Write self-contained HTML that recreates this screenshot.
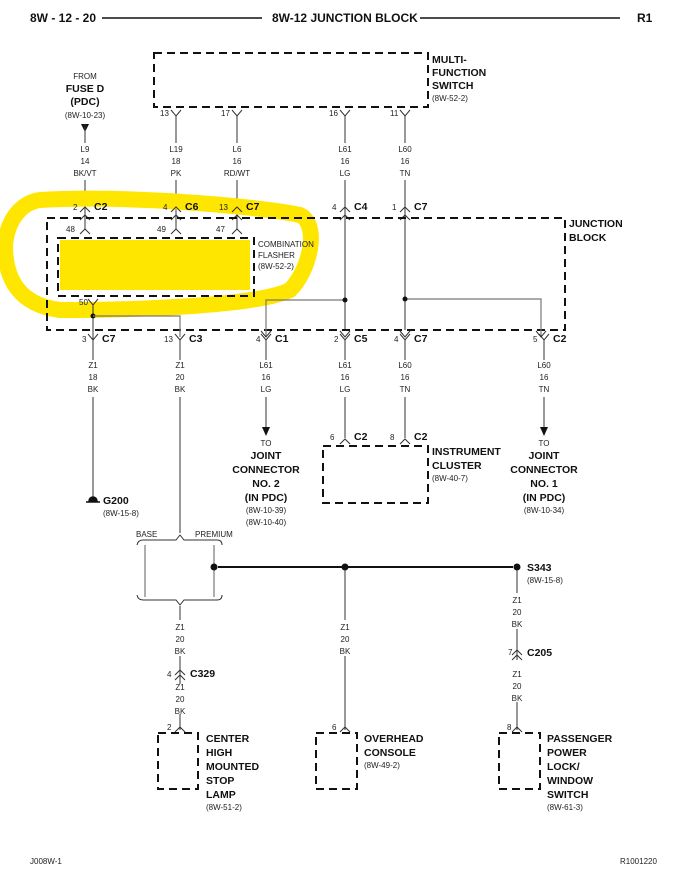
<!DOCTYPE html>
<html><head><meta charset="utf-8"><style>
html,body{margin:0;padding:0;background:#fff;}
svg{display:block;font-family:"Liberation Sans",Arial,sans-serif;}
.s{font-size:8px;fill:#222;}
.b{font-size:10.5px;font-weight:bold;fill:#111;}
.h{font-size:12px;font-weight:bold;fill:#111;}
.d{fill:none;stroke:#111;stroke-width:2;stroke-dasharray:8,5;}
.w{stroke:#333;stroke-width:1;fill:none;}
.g{stroke:#777;stroke-width:1.2;fill:none;}
</style></head><body>
<svg width="686" height="889" viewBox="0 0 686 889" xmlns="http://www.w3.org/2000/svg">
<defs>
<path id="Y" d="M-5,-4 L0,2 L5,-4 M0,2 L0,8" class="w"/>
<path id="A" d="M-5,4 L0,-2 L5,4" class="w"/>
</defs>
<!-- header -->
<text x="30" y="22" class="h">8W - 12 - 20</text>
<line x1="102" y1="18" x2="262" y2="18" stroke="#111" stroke-width="1.5"/>
<text x="272" y="22" class="h">8W-12 JUNCTION BLOCK</text>
<line x1="420" y1="18" x2="620" y2="18" stroke="#111" stroke-width="1.5"/>
<text x="637" y="22" class="h">R1</text>

<!-- multifunction switch -->
<rect x="154" y="53" width="274" height="54" class="d"/>
<text x="432" y="63" class="b">MULTI-</text>
<text x="432" y="76" class="b">FUNCTION</text>
<text x="432" y="89" class="b">SWITCH</text>
<text x="432" y="101" class="s">(8W-52-2)</text>

<!-- top wires -->
<g text-anchor="middle">
<text x="85" y="79" class="s">FROM</text>
<text x="85" y="92" class="b">FUSE D</text>
<text x="85" y="105" class="b">(PDC)</text>
<text x="85" y="118" class="s">(8W-10-23)</text>
</g>
<path d="M81,124 L89,124 L85,132 Z" fill="#111"/>
<line x1="85" y1="124" x2="85" y2="143" class="w"/>

<g class="w">
<path d="M171,110 L176,116 L181,110 M176,116 V143"/>
<path d="M232,110 L237,116 L242,110 M237,116 V143"/>
<path d="M340,110 L345,116 L350,110 M345,116 V143"/>
<path d="M400,110 L405,116 L410,110 M405,116 V143"/>
<line x1="85" y1="180" x2="85" y2="230"/>
<line x1="176" y1="180" x2="176" y2="230"/>
<line x1="237" y1="180" x2="237" y2="230"/>
<line x1="345" y1="180" x2="345" y2="330"/>
<line x1="405" y1="180" x2="405" y2="330"/>
</g>
<g class="s">
<text x="160" y="116">13</text><text x="221" y="116">17</text><text x="329" y="116">16</text><text x="390" y="116">11</text>
</g>
<g class="s" text-anchor="middle">
<text x="85" y="152">L9</text><text x="85" y="164">14</text><text x="85" y="176">BK/VT</text>
<text x="176" y="152">L19</text><text x="176" y="164">18</text><text x="176" y="176">PK</text>
<text x="237" y="152">L6</text><text x="237" y="164">16</text><text x="237" y="176">RD/WT</text>
<text x="345" y="152">L61</text><text x="345" y="164">16</text><text x="345" y="176">LG</text>
<text x="405" y="152">L60</text><text x="405" y="164">16</text><text x="405" y="176">TN</text>
</g>

<!-- yellow highlight -->
<path d="M40,200 C120,195 250,205 300,215 C320,225 310,270 290,290 C260,305 150,310 60,310 C20,305 5,280 5,245 C8,215 25,202 40,200 Z" fill="none" stroke="#ffe600" stroke-width="16"/>
<rect x="60" y="240" width="190" height="50" fill="#ffe600"/>

<!-- upper C connectors -->
<g class="w">
<path d="M80,212 L85,207 L90,212"/><path d="M80,220 L85,215 L90,220"/><path d="M80,234 L85,229 L90,234"/>
<path d="M171,212 L176,207 L181,212"/><path d="M171,220 L176,215 L181,220"/><path d="M171,234 L176,229 L181,234"/>
<path d="M232,212 L237,207 L242,212"/><path d="M232,220 L237,215 L242,220"/><path d="M232,234 L237,229 L242,234"/>
<path d="M340,212 L345,207 L350,212"/><path d="M340,220 L345,215 L350,220"/>
<path d="M400,212 L405,207 L410,212"/><path d="M400,220 L405,215 L410,220"/>
</g>
<text x="73" y="210" class="s">2</text><text x="94" y="210" class="b">C2</text>
<text x="163" y="210" class="s">4</text><text x="185" y="210" class="b">C6</text>
<text x="219" y="210" class="s">13</text><text x="246" y="210" class="b">C7</text>
<text x="332" y="210" class="s">4</text><text x="354" y="210" class="b">C4</text>
<text x="392" y="210" class="s">1</text><text x="414" y="210" class="b">C7</text>
<text x="66" y="232" class="s">48</text><text x="157" y="232" class="s">49</text><text x="216" y="232" class="s">47</text>

<!-- junction block -->
<rect x="47" y="218" width="518" height="112" class="d"/>
<text x="569" y="227" class="b">JUNCTION</text>
<text x="569" y="241" class="b">BLOCK</text>
<rect x="58" y="238" width="196" height="58" class="d"/>
<text x="258" y="247" class="s">COMBINATION</text>
<text x="258" y="258" class="s">FLASHER</text>
<text x="258" y="269" class="s">(8W-52-2)</text>
<text x="79" y="305" class="s">50</text>
<path d="M88,299 L93,305 L98,299 M93,305 V345" class="w"/>
<circle cx="93" cy="316" r="2.5" fill="#111"/>
<path d="M93,316 H180 V337" class="g"/>
<path d="M266,337 V300 H345" class="g"/>
<path d="M405,299 H541 V337" class="g"/>
<circle cx="345" cy="300" r="2.5" fill="#111"/>
<circle cx="405" cy="299" r="2.5" fill="#111"/>
<g class="w">
<path d="M261,331 L266,337 L271,331"/><path d="M340,331 L345,337 L350,331"/><path d="M400,331 L405,337 L410,331"/><path d="M536,331 L541,337 L546,331"/>
</g>

<!-- lower connectors -->
<g class="w">
<path d="M88,334 L93,340 L98,334 M93,340 V360"/>
<path d="M175,334 L180,340 L185,334 M180,340 V360"/>
<path d="M261,334 L266,340 L271,334 M266,340 V360"/>
<path d="M340,334 L345,340 L350,334 M345,340 V360"/>
<path d="M400,334 L405,340 L410,334 M405,340 V360"/>
<path d="M539,334 L544,340 L549,334 M544,340 V360"/>
</g>
<text x="82" y="342" class="s">3</text><text x="102" y="342" class="b">C7</text>
<text x="164" y="342" class="s">13</text><text x="189" y="342" class="b">C3</text>
<text x="256" y="342" class="s">4</text><text x="275" y="342" class="b">C1</text>
<text x="334" y="342" class="s">2</text><text x="354" y="342" class="b">C5</text>
<text x="394" y="342" class="s">4</text><text x="414" y="342" class="b">C7</text>
<text x="533" y="342" class="s">5</text><text x="553" y="342" class="b">C2</text>
<g class="s" text-anchor="middle">
<text x="93" y="368">Z1</text><text x="93" y="380">18</text><text x="93" y="392">BK</text>
<text x="180" y="368">Z1</text><text x="180" y="380">20</text><text x="180" y="392">BK</text>
<text x="266" y="368">L61</text><text x="266" y="380">16</text><text x="266" y="392">LG</text>
<text x="345" y="368">L61</text><text x="345" y="380">16</text><text x="345" y="392">LG</text>
<text x="405" y="368">L60</text><text x="405" y="380">16</text><text x="405" y="392">TN</text>
<text x="544" y="368">L60</text><text x="544" y="380">16</text><text x="544" y="392">TN</text>
</g>
<g class="w">
<line x1="93" y1="397" x2="93" y2="500"/>
<line x1="180" y1="397" x2="180" y2="533"/>
<line x1="266" y1="397" x2="266" y2="428"/>
<line x1="345" y1="397" x2="345" y2="438"/>
<line x1="405" y1="397" x2="405" y2="438"/>
<line x1="544" y1="397" x2="544" y2="428"/>
</g>
<path d="M262,427 L270,427 L266,436 Z" fill="#111"/>
<path d="M540,427 L548,427 L544,436 Z" fill="#111"/>
<g text-anchor="middle">
<text x="266" y="446" class="s">TO</text>
<text x="266" y="459" class="b">JOINT</text><text x="266" y="473" class="b">CONNECTOR</text><text x="266" y="487" class="b">NO. 2</text><text x="266" y="501" class="b">(IN PDC)</text>
<text x="266" y="513" class="s">(8W-10-39)</text><text x="266" y="525" class="s">(8W-10-40)</text>
<text x="544" y="446" class="s">TO</text>
<text x="544" y="459" class="b">JOINT</text><text x="544" y="473" class="b">CONNECTOR</text><text x="544" y="487" class="b">NO. 1</text><text x="544" y="501" class="b">(IN PDC)</text>
<text x="544" y="513" class="s">(8W-10-34)</text>
</g>
<!-- instrument cluster -->
<path d="M340,444 L345,439 L350,444 M400,444 L405,439 L410,444" class="w"/>
<text x="330" y="440" class="s">6</text><text x="354" y="440" class="b">C2</text>
<text x="390" y="440" class="s">8</text><text x="414" y="440" class="b">C2</text>
<rect x="323" y="446" width="105" height="57" class="d"/>
<text x="432" y="455" class="b">INSTRUMENT</text>
<text x="432" y="469" class="b">CLUSTER</text>
<text x="432" y="481" class="s">(8W-40-7)</text>
<!-- G200 -->
<path d="M86,502 H100 M89,501 A4,4 0 0 1 97,501 Z" stroke="#111" stroke-width="1.5" fill="#111"/>
<text x="103" y="504" class="b">G200</text>
<text x="103" y="516" class="s">(8W-15-8)</text>
<!-- brace -->
<text x="136" y="537" class="s">BASE</text>
<text x="195" y="537" class="s">PREMIUM</text>
<path d="M137,545 Q138,540 143,540 H176 L180,535 L184,540 H217 Q222,540 222,545" class="w"/>
<path d="M137,595 Q138,600 143,600 H176 L180,605 L184,600 H217 Q222,600 222,595" class="w"/>
<line x1="145" y1="545" x2="145" y2="597" class="g"/>
<line x1="214" y1="545" x2="214" y2="597" class="g"/>
<line x1="180" y1="606" x2="180" y2="620" class="w"/>
<line x1="218" y1="567" x2="513" y2="567" stroke="#111" stroke-width="2"/>
<circle cx="214" cy="567" r="3.5" fill="#111"/>
<circle cx="345" cy="567" r="3.5" fill="#111"/>
<circle cx="517" cy="567" r="3.5" fill="#111"/>
<text x="527" y="571" class="b">S343</text>
<text x="527" y="583" class="s">(8W-15-8)</text>
<g class="w">
<line x1="345" y1="570" x2="345" y2="620"/>
<line x1="345" y1="656" x2="345" y2="730"/>
<line x1="517" y1="570" x2="517" y2="593"/>
<line x1="517" y1="629" x2="517" y2="660"/>
<line x1="517" y1="702" x2="517" y2="730"/>
<line x1="180" y1="656" x2="180" y2="684"/>
<line x1="180" y1="714" x2="180" y2="730"/>
<path d="M175,675 L180,670 L185,675 M175,680 L180,675 L185,680"/>
<path d="M512,655 L517,650 L522,655 M512,660 L517,655 L522,660"/>
<path d="M175,732 L180,727 L185,732 M340,732 L345,727 L350,732 M512,732 L517,727 L522,732"/>
</g>
<g class="s" text-anchor="middle">
<text x="180" y="630">Z1</text><text x="180" y="642">20</text><text x="180" y="654">BK</text>
<text x="180" y="690">Z1</text><text x="180" y="702">20</text><text x="180" y="714">BK</text>
<text x="345" y="630">Z1</text><text x="345" y="642">20</text><text x="345" y="654">BK</text>
<text x="517" y="603">Z1</text><text x="517" y="615">20</text><text x="517" y="627">BK</text>
<text x="517" y="677">Z1</text><text x="517" y="689">20</text><text x="517" y="701">BK</text>
</g>
<text x="167" y="677" class="s">4</text><text x="190" y="677" class="b">C329</text>
<text x="508" y="655" class="s">7</text><text x="527" y="656" class="b">C205</text>
<text x="167" y="730" class="s">2</text><text x="332" y="730" class="s">6</text><text x="507" y="730" class="s">8</text>
<!-- bottom boxes -->
<rect x="158" y="733" width="40" height="56" class="d"/>
<rect x="316" y="733" width="41" height="56" class="d"/>
<rect x="499" y="733" width="41" height="56" class="d"/>
<text x="206" y="742" class="b">CENTER</text><text x="206" y="756" class="b">HIGH</text><text x="206" y="770" class="b">MOUNTED</text><text x="206" y="784" class="b">STOP</text><text x="206" y="798" class="b">LAMP</text><text x="206" y="810" class="s">(8W-51-2)</text>
<text x="364" y="742" class="b">OVERHEAD</text><text x="364" y="756" class="b">CONSOLE</text><text x="364" y="768" class="s">(8W-49-2)</text>
<text x="547" y="742" class="b">PASSENGER</text><text x="547" y="756" class="b">POWER</text><text x="547" y="770" class="b">LOCK/</text><text x="547" y="784" class="b">WINDOW</text><text x="547" y="798" class="b">SWITCH</text><text x="547" y="810" class="s">(8W-61-3)</text>
<text x="30" y="864" class="s">J008W-1</text>
<text x="620" y="864" class="s">R1001220</text>
</svg>
</body></html>
